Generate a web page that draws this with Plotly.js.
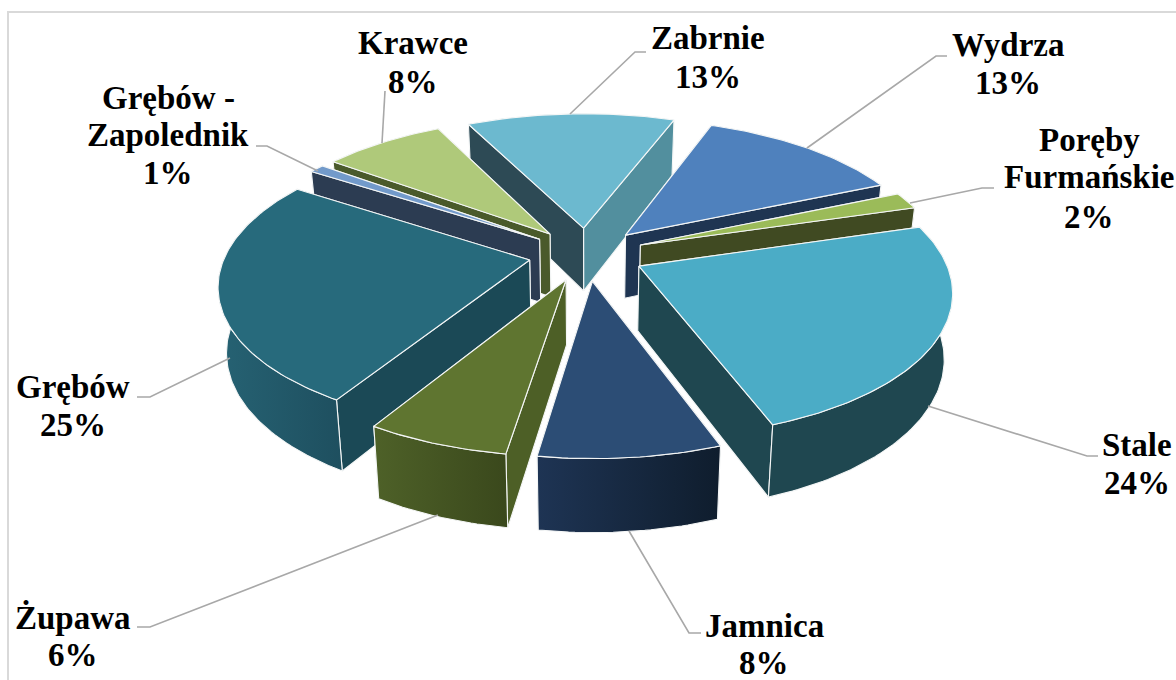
<!DOCTYPE html>
<html><head><meta charset="utf-8">
<script src="https://cdn.plot.ly/plotly-3.0.1.min.js"></script>
<style>html,body{margin:0;padding:0;background:#fff}#c{width:1176px;height:680px}</style>
</head><body><div id="c"></div>
<script>
// ---- data (clockwise, starting at Stale) ----
const categories = ["Stale","Jamnica","Żupawa","Grębów","Grębów - Zapolednik","Krawce","Zabrnie","Wydrza","Poręby Furmańskie"];
const values     = [24,8,6.3,25.4,0.94,7.61,13,12.86,1.89];
// ---- colours ----
const topColors   = ["#4bacc6","#2c4d75","#5f7530","#276a7c","#729aca","#afc97a","#6cb9cf","#4f81bd","#9bbb59"];
const startWall   = ["#1f4750","#1a2e4a","#4d5f26","#1b4956","#2c3c52","#4a5a2b","#2d4a55","#1f3552","#404a22"];
const endWall     = ["#1f4750","#1a2e4a","#4d5f26","#1b4956","#2c3c52","#4a5a2b","#528f9e","#1f3552","#404a22"];
const outerLeft   = ["#1f4750","#1e3454","#4e6128","#266273","#2c3c52","#4a5a2b","#528f9e","#1f3552","#404a22"];
const outerRight  = ["#1f4750","#0f1d2d","#3a481c","#1e4f5f","#2c3c52","#4a5a2b","#528f9e","#1f3552","#404a22"];
// ---- labels: lines of each label and their centres ----
const labelLines = [["Stale"],["Jamnica"],["Żupawa"],["Grębów"],["Grębów -","Zapolednik"],["Krawce"],["Zabrnie"],["Wydrza"],["Poręby","Furmańskie"]];
const labelX = [1137,764,73,73,168,413,708,1008,1089];
const labelY = [[445,483],[626,663],[617,655],[387,425],[98,135,173],[43,82],[38,77],[45,83],[140,177,217]];
const leaders = [
 [[1098,456],[1087,456],[928,406]],
 [[701,633],[689,633],[629,531]],
 [[137,627],[150,627],[438,515]],
 [[137,397],[150,397],[230,358]],
 [[256,146],[267,146],[318,171]],
 [[385,91],[382,143]],
 [[646,52],[635,52],[570,114]],
 [[947,56],[936,56],[807,148]],
 [[994,188],[982,188],[910,203]]
];
// ---- view of the exploded 3-D pie ----
const view = {cx:586.5, cy:254, rx:362, ry:166.5, persp:0.187, radius:0.84, explode:0.16, depth:64, shrink:0.977, startDeg:-16.5};

function project(X, Y, low){
  const w = 1 - view.persp*Y, s = low ? view.shrink : 1;
  return [view.cx + view.rx*X/w*s, view.cy + view.ry*Y/w*s + (low ? view.depth/w : 0)];
}
const total = values.reduce((a,b)=>a+b,0);
let ang = view.startDeg;
const slices = values.map((v,i)=>{
  const a0 = ang, a1 = ang + v/total*360; ang = a1;
  const mid = (a0+a1)/2*Math.PI/180;
  return {i, a0, a1, mid, ox:view.explode*Math.cos(mid), oy:view.explode*Math.sin(mid)};
});
function rim(s, deg){
  const r = deg*Math.PI/180;
  return [s.ox + view.radius*Math.cos(r), s.oy + view.radius*Math.sin(r)];
}
function poly(points, color, left, right){
  const t = {type:'scatter', mode:'lines', x:points.map(p=>p[0]), y:points.map(p=>p[1]),
    fill:'toself', line:{color:'#f4f6f6', width:1.1}, hoverinfo:'skip', showlegend:false};
  if (left) t.fillgradient = {type:'horizontal', colorscale:[[0,left],[1,right]]};
  else t.fillcolor = color;
  return t;
}
const traces = [];
[...slices].sort((a,b)=>Math.sin(a.mid)-Math.sin(b.mid)).forEach(s=>{
  const A=[s.ox,s.oy], P0=rim(s,s.a0), P1=rim(s,s.a1);
  const wall=(Q,c)=>poly([project(...A),project(...Q),project(...Q,true),project(...A,true),project(...A)],c);
  const walls=[[P0,startWall[s.i]],[P1,endWall[s.i]]].sort((p,q)=>p[0][1]-q[0][1]).map(p=>wall(p[0],p[1]));
  const arc=[]; for(let d=s.a0; d<s.a1; d+=1) arc.push(rim(s,d)); arc.push(P1);
  const up=arc.map(p=>project(...p)), lo=arc.map(p=>project(...p,true)).reverse();
  const outer=poly([...up,...lo,up[0]],null,outerLeft[s.i],outerRight[s.i]);
  if (Math.sin(s.mid)<0) traces.push(outer,...walls); else traces.push(...walls,outer);
  traces.push(poly([project(...A),...up,project(...A)],topColors[s.i]));
});
const shapes = leaders.map(l=>({type:'path', xref:'x', yref:'y',
  path:'M'+l.map(p=>p[0]+' '+p[1]).join('L'), line:{color:'#a8a8a8', width:1.6}}));
shapes.push({type:'path', xref:'x', yref:'y', path:'M8 680L8 12L1176 12', line:{color:'#d9d9d9', width:2}});
const annotations = [];
categories.forEach((c,i)=>{
  const lines=[...labelLines[i], Math.round(values[i])+'%'];
  lines.forEach((t,k)=>annotations.push({x:labelX[i], y:labelY[i][k], xref:'x', yref:'y', text:'<b>'+t+'</b>', showarrow:false,
    xanchor:'center', yanchor:'middle', font:{family:'"Liberation Serif", serif', size:33, color:'#000'}}));
});
Plotly.newPlot('c', traces, {width:1176, height:680, margin:{l:0,r:0,t:0,b:0}, paper_bgcolor:'#fff', plot_bgcolor:'#fff',
  xaxis:{range:[0,1176], visible:false, fixedrange:true},
  yaxis:{range:[680,0], visible:false, fixedrange:true},
  shapes, annotations, showlegend:false}, {displayModeBar:false, staticPlot:true});
</script></body></html>
